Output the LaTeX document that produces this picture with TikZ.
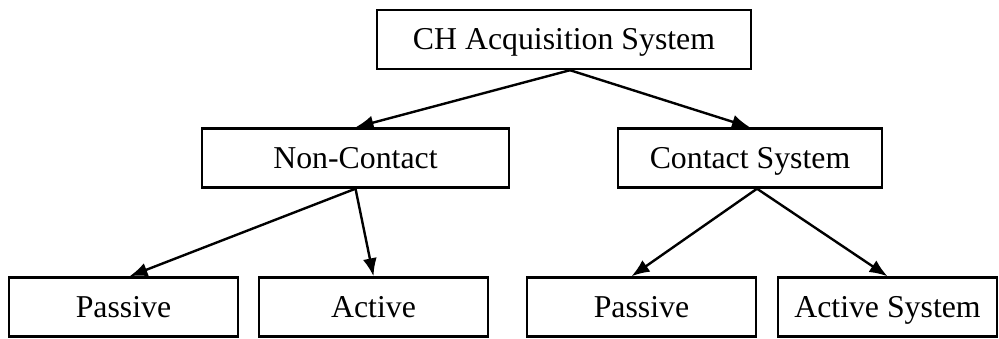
\documentclass[tikz,border=0pt]{standalone}
\usepackage{fontspec}
\setmainfont{Liberation Serif}
\usetikzlibrary{arrows.meta}

\begin{document}
\begin{tikzpicture}[x=0.5pt,y=-0.5pt,
    box/.style={draw, line width=1.2pt, minimum height=29.5pt, inner sep=0pt,
        text height=12pt, text depth=2pt, font=\fontsize{15.9}{19}\selectfont},
    link/.style={line width=1.2pt, -{Latex[length=9pt,width=7pt]}}]
    \useasboundingbox (0,0) rectangle (999,338);
    \node[box, minimum width=187pt]   (top) at (564,39.5) {CH Acquisition System};
    \node[box, minimum width=153.5pt] (nc)  at (355.5,158) {Non-Contact};
    \node[box, minimum width=132pt]   (cs)  at (750,158) {Contact System};
    \node[box, minimum width=114.5pt] (ncp) at (123.5,307) {Passive};
    \node[box, minimum width=114.5pt] (nca) at (373.5,307) {Active};
    \node[box, minimum width=114.5pt] (csp) at (641.5,307) {Passive};
    \node[box, minimum width=109.5pt] (csa) at (887.5,307) {Active System};
    \draw[link] ([xshift=3pt]top.south) -- (nc.north);
    \draw[link] ([xshift=3pt]top.south) -- (cs.north);
    \draw[link] (nc.south) -- ([xshift=3pt]ncp.north);
    \draw[link] (nc.south) -- (nca.north);
    \draw[link] ([xshift=3.5pt]cs.south) -- ([xshift=-5pt]csp.north);
    \draw[link] ([xshift=3.5pt]cs.south) -- (csa.north);
\end{tikzpicture}
\end{document}
